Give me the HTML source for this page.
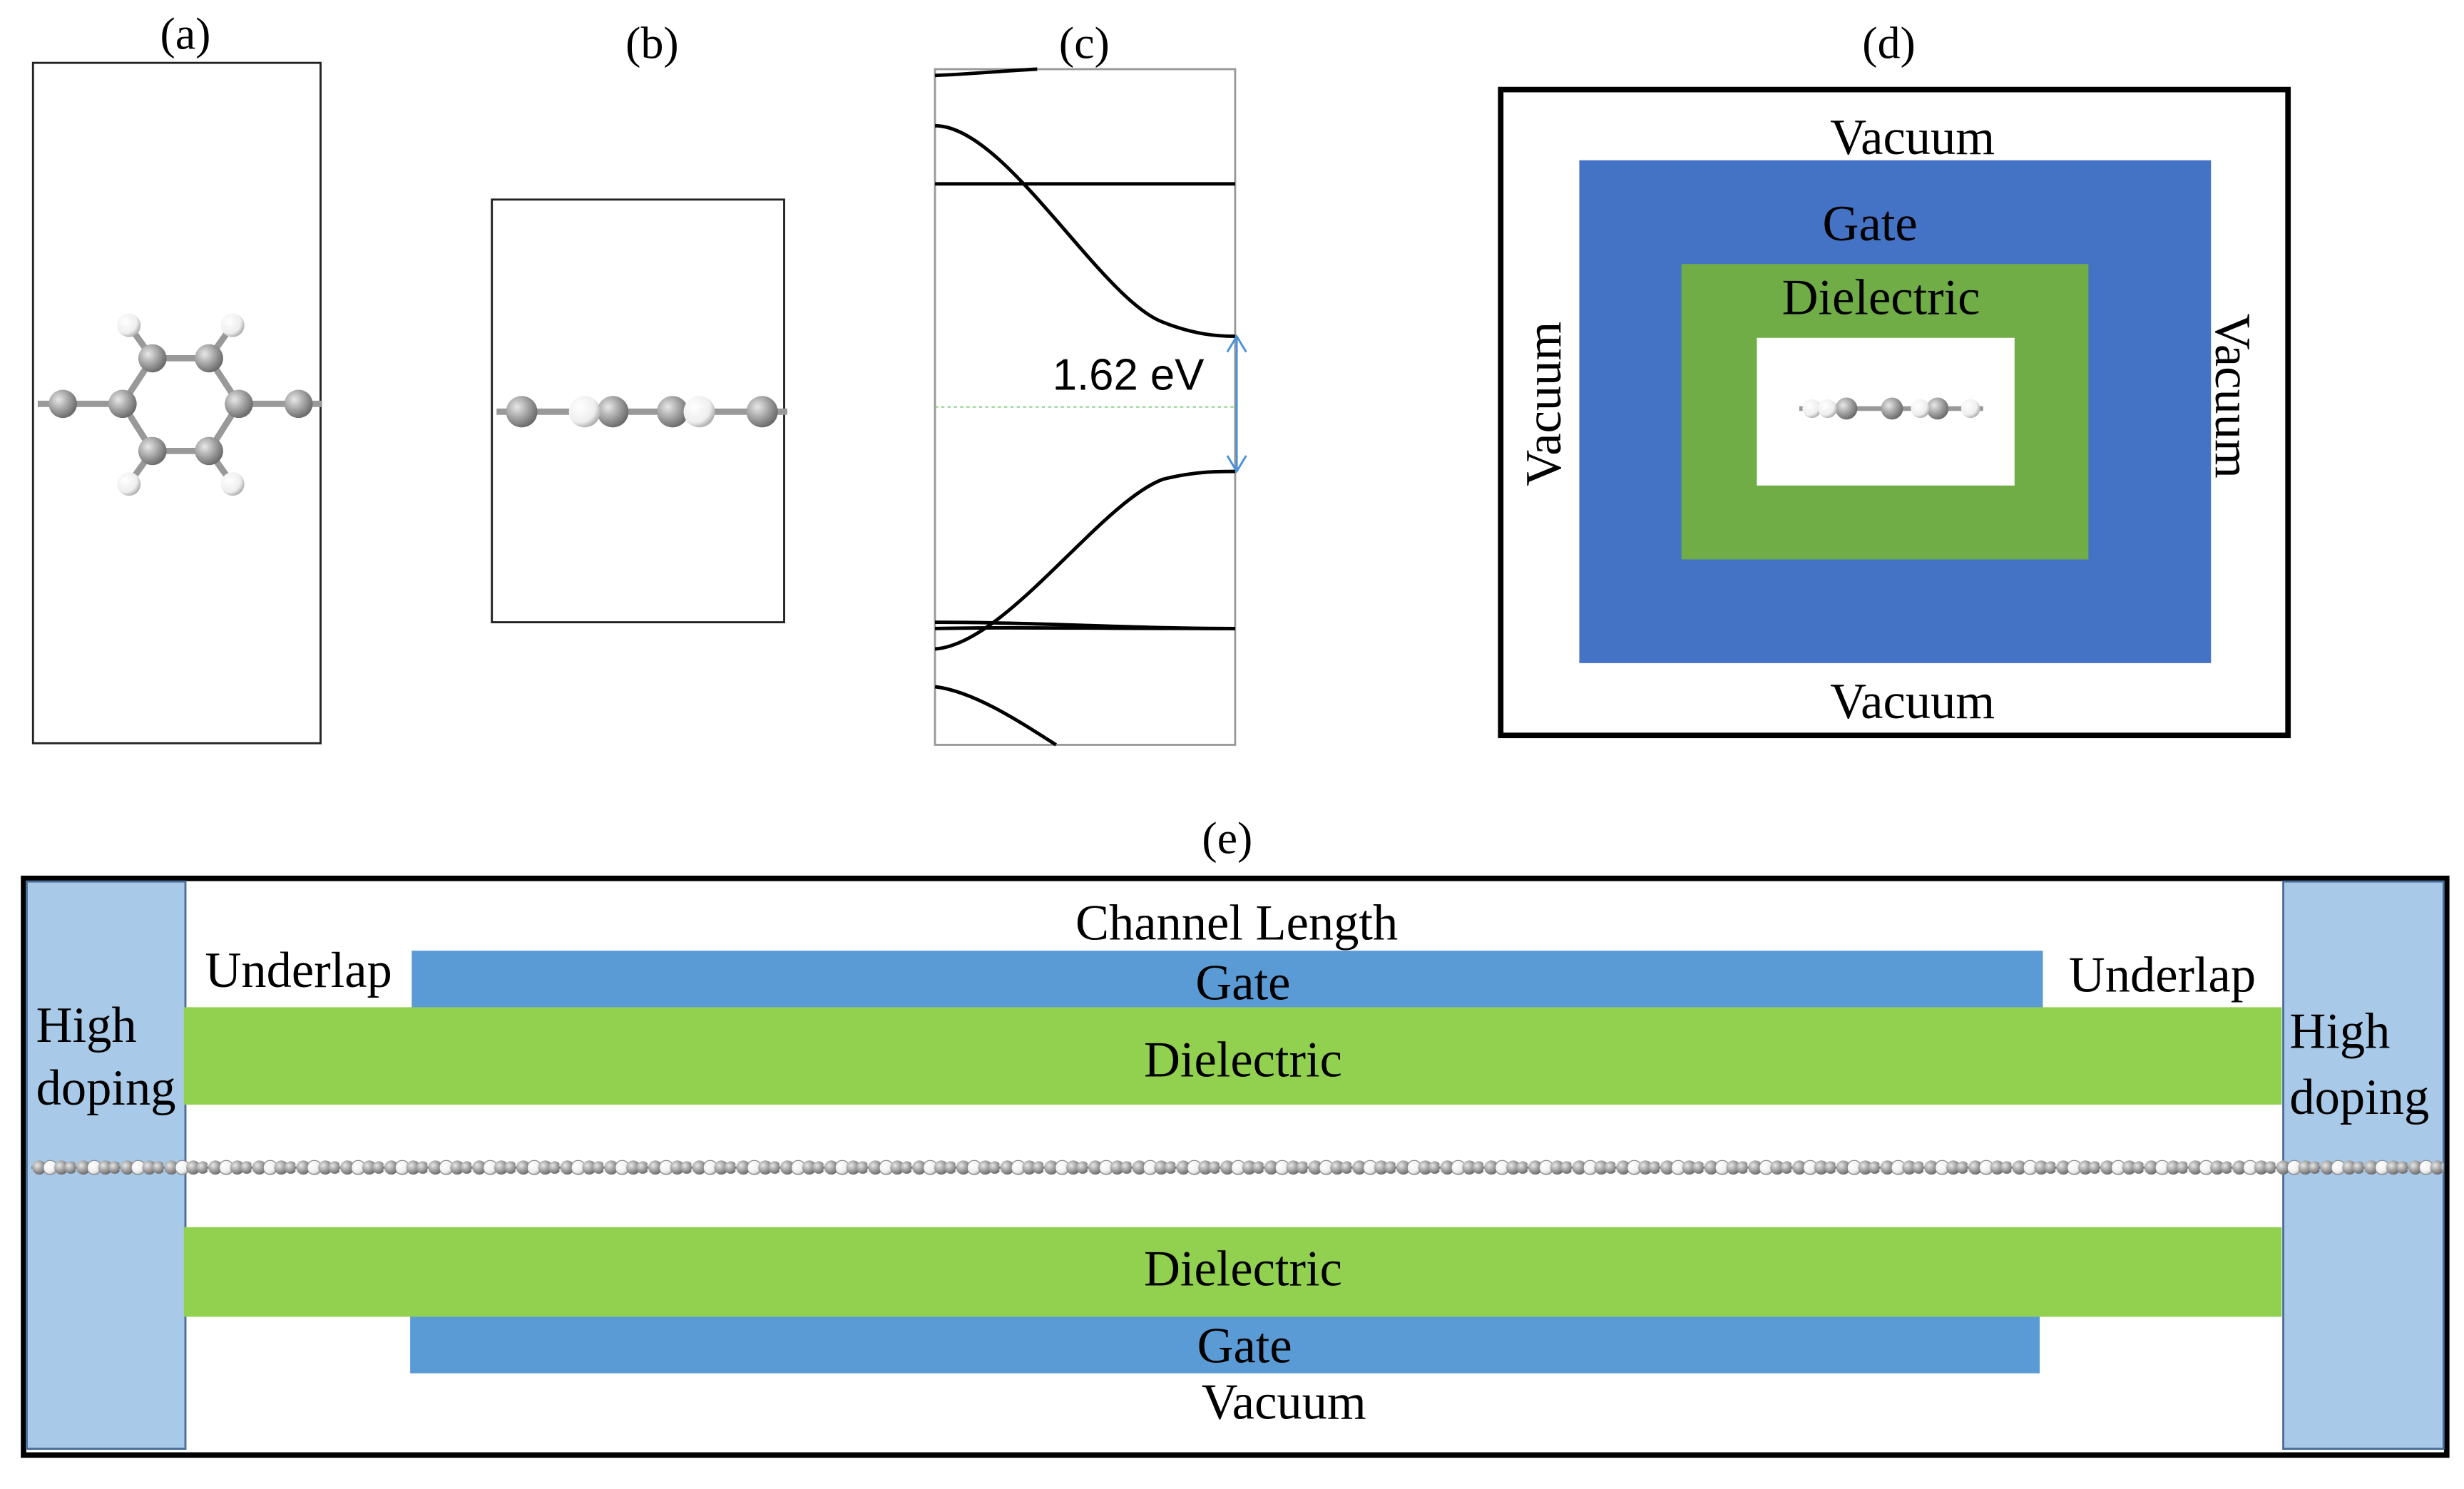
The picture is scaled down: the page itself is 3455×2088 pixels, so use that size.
<!DOCTYPE html>
<html><head><meta charset="utf-8"><style>
html,body{margin:0;padding:0;background:#fff;}
svg{display:block;}
text{font-family:"Liberation Serif",serif;fill:#000;}
</style></head><body>
<svg width="3455" height="2088" viewBox="0 0 1568 947.6" xmlns="http://www.w3.org/2000/svg">
<defs>
<radialGradient id="c" cx="35%" cy="35%" r="70%"><stop offset="0" stop-color="#e8e8e8"/><stop offset="0.6" stop-color="#999"/><stop offset="1" stop-color="#666"/></radialGradient>
<radialGradient id="h" cx="35%" cy="35%" r="70%"><stop offset="0" stop-color="#fff"/><stop offset="0.7" stop-color="#eee"/><stop offset="1" stop-color="#aaa"/></radialGradient>
<pattern id="chain" x="20" y="735" width="28" height="16" patternUnits="userSpaceOnUse">
<line x1="0" y1="8" x2="28" y2="8" stroke="#777" stroke-width="1.5"/>
<circle cx="5" cy="8" r="4.5" fill="url(#c)"/><circle cx="12" cy="8" r="4.5" fill="url(#h)" stroke="#888" stroke-width="0.6"/>
<circle cx="19" cy="8" r="4.5" fill="url(#c)"/><circle cx="25" cy="8" r="4" fill="url(#c)"/>
</pattern>
</defs>
<text x="118" y="31" font-size="29" text-anchor="middle">(a)</text>
<text x="415" y="37" font-size="29" text-anchor="middle">(b)</text>
<text x="690" y="37" font-size="29" text-anchor="middle">(c)</text>
<text x="1202" y="37" font-size="29" text-anchor="middle">(d)</text>
<text x="781" y="543" font-size="29" text-anchor="middle">(e)</text>

<rect x="21" y="40" width="183" height="433" fill="none" stroke="#222" stroke-width="1.3"/>
<g stroke="#999" stroke-width="4" fill="none">
<line x1="24" y1="257" x2="78" y2="257"/><line x1="152" y1="257" x2="205" y2="257"/>
<polygon points="78,257 97,228 133,228 152,257 133,287 97,287"/>
<line x1="97" y1="228" x2="82" y2="207"/><line x1="133" y1="228" x2="148" y2="207"/>
<line x1="97" y1="287" x2="82" y2="308"/><line x1="133" y1="287" x2="148" y2="308"/>
</g>
<g fill="url(#h)"><circle cx="82" cy="207" r="7.5"/><circle cx="148" cy="207" r="7.5"/><circle cx="82" cy="308" r="7.5"/><circle cx="148" cy="308" r="7.5"/></g>
<g fill="url(#c)"><circle cx="40" cy="257" r="9"/><circle cx="78" cy="257" r="9"/><circle cx="97" cy="228" r="9"/><circle cx="133" cy="228" r="9"/><circle cx="152" cy="257" r="9"/><circle cx="133" cy="287" r="9"/><circle cx="97" cy="287" r="9"/><circle cx="190" cy="257" r="9"/></g>

<rect x="313" y="127" width="186" height="269" fill="none" stroke="#222" stroke-width="1.3"/>
<line x1="316" y1="262" x2="501" y2="262" stroke="#999" stroke-width="4"/>
<circle cx="332" cy="262" r="10" fill="url(#c)"/><circle cx="390" cy="262" r="10" fill="url(#c)"/><circle cx="372" cy="262" r="10" fill="url(#h)"/>
<circle cx="428" cy="262" r="10" fill="url(#c)"/><circle cx="445" cy="262" r="10" fill="url(#h)"/><circle cx="485" cy="262" r="10" fill="url(#c)"/>

<rect x="595" y="44" width="191" height="430" fill="none" stroke="#999" stroke-width="1.3"/>
<g fill="none" stroke="#000" stroke-width="2.2">
<path d="M595,48 C620,47 640,45 660,44"/>
<path d="M595,80 C640,80 700,190 740,205 C760,213 775,214 786,214"/>
<line x1="595" y1="117" x2="786" y2="117"/>
<path d="M595,413 C640,410 700,320 740,305 C760,300 775,300 786,300"/>
<path d="M595,396 C660,396 720,400 786,400"/>
<path d="M595,400 C640,399 700,400 786,400"/>
<path d="M595,437 C620,440 650,460 672,474"/>
</g>
<line x1="595" y1="259" x2="786" y2="259" stroke="#7c7" stroke-width="0.8" stroke-dasharray="2,2"/>
<g stroke="#4a90d9" stroke-width="1.3" fill="none">
<line x1="787" y1="214" x2="787" y2="300"/>
<polyline points="781,224 787,214 793,224"/><polyline points="781,290 787,300 793,290"/>
</g>
<text x="718" y="248" font-size="28" text-anchor="middle" style="font-family:'Liberation Sans',sans-serif">1.62 eV</text>

<rect x="955" y="57" width="501" height="411" fill="none" stroke="#000" stroke-width="3.5"/>
<rect x="1005" y="102" width="402" height="320" fill="#4472c4"/>
<rect x="1070" y="168" width="259" height="188" fill="#70ad47"/>
<rect x="1118" y="215" width="164" height="94" fill="#fff"/>
<line x1="1145" y1="260" x2="1262" y2="260" stroke="#999" stroke-width="3"/>
<g><circle cx="1153" cy="260" r="6" fill="url(#h)"/><circle cx="1175" cy="260" r="7" fill="url(#c)"/><circle cx="1163" cy="260" r="6" fill="url(#h)"/><circle cx="1204" cy="260" r="7" fill="url(#c)"/><circle cx="1233" cy="260" r="7" fill="url(#c)"/><circle cx="1222" cy="260" r="6" fill="url(#h)"/><circle cx="1254" cy="260" r="6" fill="url(#h)"/></g>
<text x="1217" y="98" font-size="32" text-anchor="middle">Vacuum</text>
<text x="1190" y="153" font-size="32" text-anchor="middle">Gate</text>
<text x="1197" y="200" font-size="32" text-anchor="middle">Dielectric</text>
<text x="1217" y="457" font-size="32" text-anchor="middle">Vacuum</text>
<text transform="translate(993,257) rotate(-90)" font-size="32" text-anchor="middle">Vacuum</text>
<text transform="translate(1410,252) rotate(90)" font-size="32" text-anchor="middle">Vacuum</text>

<rect x="15" y="559" width="1542" height="367" fill="none" stroke="#000" stroke-width="3.5"/>
<rect x="17" y="561" width="101" height="361" fill="#a9c9e8" stroke="#4a6e99" stroke-width="1.3"/>
<rect x="1453" y="561" width="102" height="361" fill="#a9c9e8" stroke="#4a6e99" stroke-width="1.3"/>
<rect x="262" y="605" width="1038" height="37" fill="#5b9bd5"/>
<rect x="117" y="641" width="1335" height="62" fill="#92d050"/>
<rect x="117" y="781" width="1335" height="57" fill="#92d050"/>
<rect x="261" y="838" width="1037" height="36" fill="#5b9bd5"/>
<rect x="20" y="735" width="1535" height="16" fill="url(#chain)"/>
<text x="787" y="598" font-size="32" text-anchor="middle">Channel Length</text>
<text x="190" y="628" font-size="32" text-anchor="middle">Underlap</text>
<text x="1376" y="631" font-size="32" text-anchor="middle">Underlap</text>
<text x="791" y="636" font-size="32" text-anchor="middle">Gate</text>
<text x="791" y="685" font-size="32" text-anchor="middle">Dielectric</text>
<text x="791" y="818" font-size="32" text-anchor="middle">Dielectric</text>
<text x="792" y="867" font-size="32" text-anchor="middle">Gate</text>
<text x="817" y="903" font-size="32" text-anchor="middle">Vacuum</text>
<text x="23" y="663" font-size="32">High</text>
<text x="23" y="703" font-size="32">doping</text>
<text x="1457" y="667" font-size="32">High</text>
<text x="1457" y="709" font-size="32">doping</text>
</svg>
</body></html>
